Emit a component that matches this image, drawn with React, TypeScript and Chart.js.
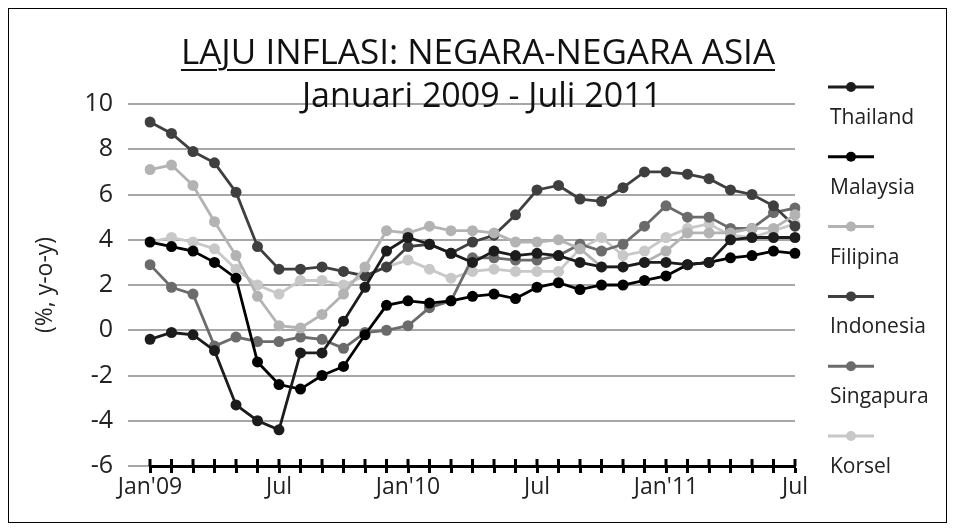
import React, { useEffect, useRef } from 'react';
import { Chart, registerables } from 'chart.js';

Chart.register(...registerables);

// ---- data ----
const months = [
  '2009-01', '2009-02', '2009-03', '2009-04', '2009-05', '2009-06', '2009-07', '2009-08', '2009-09', '2009-10', '2009-11', '2009-12',
  '2010-01', '2010-02', '2010-03', '2010-04', '2010-05', '2010-06', '2010-07', '2010-08', '2010-09', '2010-10', '2010-11', '2010-12',
  '2011-01', '2011-02', '2011-03', '2011-04', '2011-05', '2011-06', '2011-07',
];
const tickLabels = ["Jan'09", 'Jul', "Jan'10", 'Jul', "Jan'11", 'Jul'];
const tickEvery = 6;

const thailand = [-0.4, -0.1, -0.2, -0.9, -3.3, -4.0, -4.4, -1.0, -1.0, 0.4, 1.9, 3.5, 4.1, 3.8, 3.4, 3.0, 3.5, 3.3, 3.4, 3.3, 3.0, 2.8, 2.8, 3.0, 3.0, 2.9, 3.0, 4.0, 4.1, 4.1, 4.1];
const malaysia = [3.9, 3.7, 3.5, 3.0, 2.3, -1.4, -2.4, -2.6, -2.0, -1.6, -0.2, 1.1, 1.3, 1.2, 1.3, 1.5, 1.6, 1.4, 1.9, 2.1, 1.8, 2.0, 2.0, 2.2, 2.4, 2.9, 3.0, 3.2, 3.3, 3.5, 3.4];
const filipina = [7.1, 7.3, 6.4, 4.8, 3.3, 1.5, 0.2, 0.1, 0.7, 1.6, 2.8, 4.4, 4.3, 4.6, 4.4, 4.4, 4.3, 3.9, 3.9, 4.0, 3.6, 2.8, 2.8, 3.0, 3.5, 4.3, 4.3, 4.3, 4.5, 4.5, 5.1];
const indonesia = [9.2, 8.7, 7.9, 7.4, 6.1, 3.7, 2.7, 2.7, 2.8, 2.6, 2.4, 2.8, 3.7, 3.8, 3.4, 3.9, 4.2, 5.1, 6.2, 6.4, 5.8, 5.7, 6.3, 7.0, 7.0, 6.9, 6.7, 6.2, 6.0, 5.5, 4.6];
const singapura = [2.9, 1.9, 1.6, -0.7, -0.3, -0.5, -0.5, -0.3, -0.4, -0.8, -0.1, 0.0, 0.2, 1.0, 1.3, 3.2, 3.2, 3.1, 3.1, 3.3, 3.8, 3.5, 3.8, 4.6, 5.5, 5.0, 5.0, 4.5, 4.5, 5.2, 5.4];
const korsel = [3.9, 4.1, 3.9, 3.6, 2.7, 2.0, 1.6, 2.2, 2.2, 2.0, 2.4, 2.8, 3.1, 2.7, 2.3, 2.6, 2.7, 2.6, 2.6, 2.6, 3.6, 4.1, 3.3, 3.5, 4.1, 4.5, 4.7, 4.2, 4.1, 4.4, 4.7];

const seriesNames = ['Thailand', 'Malaysia', 'Filipina', 'Indonesia', 'Singapura', 'Korsel'];
const seriesValues = [thailand, malaysia, filipina, indonesia, singapura, korsel];
const seriesColors = ['#1c1c1c', '#000000', '#b3b3b3', '#3f3f3f', '#6b6b6b', '#c8c8c8'];

const FONT = "'Open Sans', 'Noto Sans', sans-serif";

const crossTicks = {
  id: 'crossTicks',
  afterDatasetsDraw(chart: any) {
    const xs = chart.scales.x;
    const ctx = chart.ctx;
    const bottom = chart.chartArea.bottom;
    ctx.save();
    ctx.strokeStyle = '#000';
    ctx.lineWidth = 3;
    for (let i = 0; i < months.length; i++) {
      const x = xs.getPixelForValue(i);
      ctx.beginPath();
      ctx.moveTo(x, bottom - 7);
      ctx.lineTo(x, bottom);
      ctx.stroke();
    }
    ctx.restore();
  },
};

const sideLegend = {
  id: 'sideLegend',
  afterDraw(chart: any) {
    const ctx = chart.ctx;
    chart.data.datasets.forEach((ds: any, i: number) => {
      const y = 87 + i * 69.8;
      ctx.save();
      ctx.strokeStyle = ds.borderColor;
      ctx.fillStyle = ds.borderColor;
      ctx.lineWidth = 3;
      ctx.beginPath();
      ctx.moveTo(828, y);
      ctx.lineTo(874, y);
      ctx.stroke();
      ctx.beginPath();
      ctx.arc(851, y, 5, 0, Math.PI * 2);
      ctx.fill();
      ctx.fillStyle = '#222';
      ctx.font = `21px ${FONT}`;
      ctx.textBaseline = 'alphabetic';
      ctx.textAlign = 'left';
      ctx.fillText(ds.label, 830, y + 37);
      ctx.restore();
    });
  },
};

export default function App() {
  const ref = useRef<HTMLCanvasElement | null>(null);

  useEffect(() => {
    if (!ref.current) return;
    const chart = new Chart(ref.current, {
      type: 'line',
      data: {
        labels: months,
        datasets: seriesNames.map((name, i) => ({
          label: name,
          data: seriesValues[i],
          borderColor: seriesColors[i],
          backgroundColor: seriesColors[i],
          pointBackgroundColor: seriesColors[i],
          pointBorderColor: seriesColors[i],
          pointBorderWidth: 0,
          pointRadius: 5.5,
          borderWidth: 2.8,
          tension: 0,
          fill: false,
        })),
      },
      options: {
        animation: false,
        responsive: false,
        maintainAspectRatio: false,
        layout: { padding: { left: 0, top: 104, right: 158, bottom: 0 } },
        plugins: {
          legend: { display: false },
          title: { display: false },
          tooltip: { enabled: false },
        },
        scales: {
          x: {
            type: 'category',
            offset: false,
            afterFit: (s: any) => { s.height = 64; },
            border: { display: true, color: '#000', width: 3, z: 1 },
            grid: {
              display: true,
              drawOnChartArea: false,
              drawTicks: true,
              tickLength: 7,
              tickColor: '#000',
              tickWidth: 3,
            },
            ticks: {
              autoSkip: false,
              maxRotation: 0,
              minRotation: 0,
              padding: 1,
              color: '#222',
              font: { family: FONT, size: 23 },
              callback: (_v: any, i: number) => (i % tickEvery === 0 ? tickLabels[i / tickEvery] : ''),
            },
          },
          y: {
            min: -6,
            max: 10,
            afterFit: (s: any) => { s.width = 150; },
            border: { display: false },
            grid: {
              color: (c: any) => (c.tick && Math.round(c.tick.value) % 2 === 0 ? '#a6a6a6' : 'rgba(0,0,0,0)'),
              lineWidth: 2,
              drawTicks: true,
              tickLength: 22,
              tickColor: (c: any) => (c.tick && Math.round(c.tick.value) % 2 === 0 ? '#a6a6a6' : '#000'),
              tickWidth: 2,
            },
            ticks: {
              stepSize: 1,
              padding: 15,
              color: '#222',
              font: { family: FONT, size: 25 },
              callback: (v: any) => (Math.round(v) % 2 === 0 ? String(v) : ''),
            },
            title: {
              display: true,
              text: '(%, y-o-y)',
              color: '#222',
              font: { family: FONT, size: 23 },
              padding: { top: 32, bottom: 0 },
            },
          },
        },
      },
      plugins: [crossTicks, sideLegend],
    } as any);
    return () => chart.destroy();
  }, []);

  return (
    <div style={{ position: 'fixed', left: 0, top: 0, width: 953, height: 530, background: '#fff' }}>
      <canvas ref={ref} width={953} height={530} style={{ position: 'absolute', left: 0, top: 0, width: 953, height: 530 }} />
      <div
        style={{
          position: 'absolute', left: 0, top: 28, width: 956, textAlign: 'center',
          fontFamily: FONT, fontSize: 35, color: '#111', lineHeight: '46px',
        }}
      >
        <span style={{ textDecoration: 'underline', textDecorationThickness: 2, textUnderlineOffset: 5 }}>
          LAJU INFLASI: NEGARA-NEGARA ASIA
        </span>
      </div>
      <div
        style={{
          position: 'absolute', left: 0, top: 71, width: 964, textAlign: 'center',
          fontFamily: FONT, fontSize: 34, color: '#111', lineHeight: '46px',
        }}
      >
        Januari 2009 - Juli 2011
      </div>
      <div
        style={{
          position: 'absolute', left: 8, top: 8, width: 937, height: 513,
          border: '1px solid #000', pointerEvents: 'none',
        }}
      />
    </div>
  );
}
